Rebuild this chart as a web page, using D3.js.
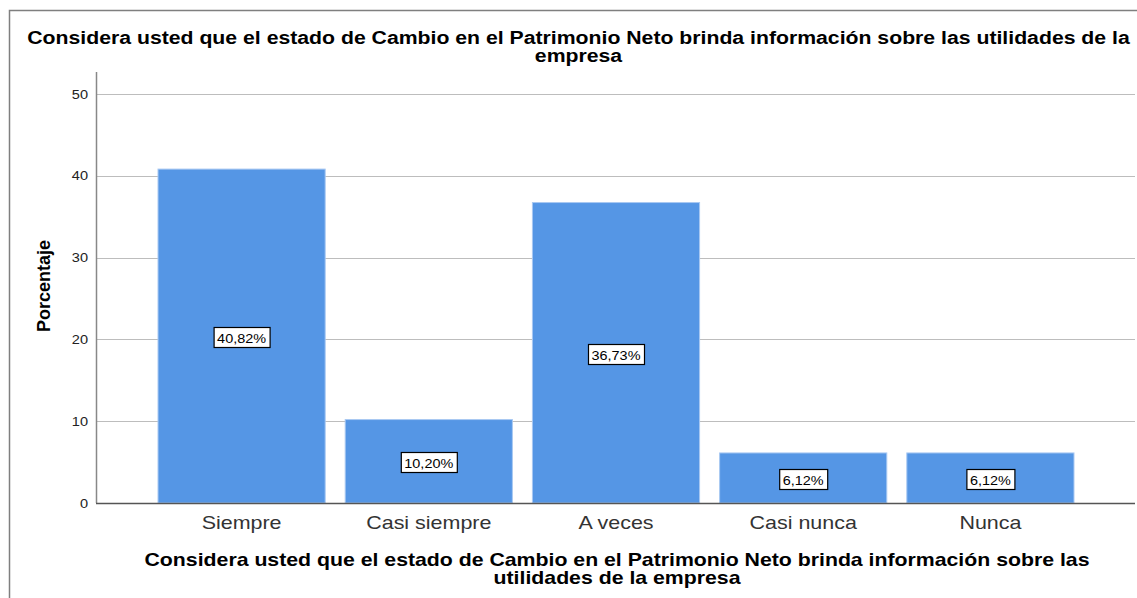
<!DOCTYPE html>
<html>
<head>
<meta charset="utf-8">
<script src="https://cdn.jsdelivr.net/npm/d3@7"></script>
<style>
  body { margin: 0; background: #fff; }
  text { font-family: "Liberation Sans", Arial, sans-serif; }
</style>
</head>
<body>
<svg id="chart" width="1137" height="598"></svg>
<script>
const categories = ["Siempre", "Casi siempre", "A veces", "Casi nunca", "Nunca"];
const values = [40.82, 10.20, 36.73, 6.12, 6.12];
const yTicks = [0, 10, 20, 30, 40, 50];
const titleLines = ["Considera usted que el estado de Cambio en el Patrimonio Neto brinda información sobre las utilidades de la", "empresa"];
const xTitleLines = ["Considera usted que el estado de Cambio en el Patrimonio Neto brinda información sobre las", "utilidades de la empresa"];

const svg = d3.select("#chart");

// the original picture is stretched sideways, so text gets a horizontal scale
function stretchFor(str, size, weight, target) {
  const t = svg.append("text").attr("font-size", size).attr("font-weight", weight).text(str);
  const w = t.node().getComputedTextLength();
  t.remove();
  return target / w;
}

// outer frame (runs off the right/bottom edges)
svg.append("path")
  .attr("d", "M9.5,598 V10.5 H1137")
  .attr("fill", "none")
  .attr("stroke", "#7f7f7f")
  .attr("stroke-width", 1.5);

const plotLeft = 96, plotRight = 1135, plotTop = 72, plotBottom = 503;

const y = d3.scaleLinear().domain([0, 50]).range([plotBottom, 94]);
const x = d3.scaleBand()
  .domain(categories)
  .range([148, 1084])
  .paddingInner(0.107)
  .paddingOuter(0.0535);

// gridlines
svg.append("g")
  .selectAll("line")
  .data(yTicks.filter(d => d > 0))
  .enter()
  .append("line")
  .attr("x1", plotLeft)
  .attr("x2", plotRight)
  .attr("y1", d => Math.round(y(d)) + 0.5)
  .attr("y2", d => Math.round(y(d)) + 0.5)
  .attr("stroke", "#bdbdbd")
  .attr("stroke-width", 1);

// bars
svg.append("g")
  .selectAll("rect")
  .data(values)
  .enter()
  .append("rect")
  .attr("x", (d, i) => x(categories[i]))
  .attr("y", d => y(d))
  .attr("width", x.bandwidth())
  .attr("height", d => plotBottom - y(d))
  .attr("fill", "#5596e5")
  .attr("stroke", "#a8c8f2")
  .attr("stroke-width", 1);

// axes lines
svg.append("line")
  .attr("x1", plotLeft + 0.5).attr("x2", plotLeft + 0.5)
  .attr("y1", plotTop).attr("y2", plotBottom)
  .attr("stroke", "#888").attr("stroke-width", 1.5);
svg.append("line")
  .attr("x1", plotLeft).attr("x2", plotRight)
  .attr("y1", plotBottom + 0.5).attr("y2", plotBottom + 0.5)
  .attr("stroke", "#555").attr("stroke-width", 1.5);

// y tick labels
svg.append("g")
  .selectAll("text")
  .data(yTicks)
  .enter()
  .append("text")
  .attr("transform", d => `translate(88,${y(d)}) scale(1.12,1)`)
  .attr("dy", "0.35em")
  .attr("text-anchor", "end")
  .attr("font-size", 13)
  .attr("fill", "#222")
  .text(d => d);

// category labels
const catSx = stretchFor("Siempre", 18, "normal", 80);
svg.append("g")
  .selectAll("text")
  .data(categories)
  .enter()
  .append("text")
  .attr("transform", d => `translate(${x(d) + x.bandwidth() / 2},529) scale(${catSx},1)`)
  .attr("text-anchor", "middle")
  .attr("font-size", 18)
  .attr("fill", "#333")
  .text(d => d);

// value labels in boxes
const fmt = v => v.toFixed(2).replace(".", ",") + "%";
const valSx = stretchFor("40,82%", 13, "normal", 49);
const lab = svg.append("g")
  .selectAll("g")
  .data(values)
  .enter()
  .append("g")
  .attr("transform", (d, i) => `translate(${x(categories[i]) + x.bandwidth() / 2},${Math.round(y(d / 2)) + 2})`);
lab.each(function() {
  const g = d3.select(this);
  const t = g.append("text")
    .attr("transform", `scale(${valSx},1)`)
    .attr("text-anchor", "middle")
    .attr("dy", "0.35em")
    .attr("font-size", 13)
    .attr("fill", "#000")
    .text(fmt);
  const w = t.node().getComputedTextLength() * valSx;
  g.insert("rect", "text")
    .attr("x", Math.round(-w / 2) - 3.5)
    .attr("y", -10.5)
    .attr("width", Math.round(w) + 7)
    .attr("height", 20)
    .attr("fill", "#fff")
    .attr("stroke", "#000")
    .attr("stroke-width", 1.2);
});

// chart title
const titleSx = stretchFor(titleLines[0], 18, "bold", 1103);
svg.append("g")
  .selectAll("text")
  .data(titleLines)
  .enter()
  .append("text")
  .attr("transform", (d, i) => `translate(578.5,${44 + i * 18}) scale(${titleSx},1)`)
  .attr("text-anchor", "middle")
  .attr("font-size", 18)
  .attr("font-weight", "bold")
  .text(d => d);

// x axis title
const xtSx = stretchFor(xTitleLines[0], 18, "bold", 946);
svg.append("g")
  .selectAll("text")
  .data(xTitleLines)
  .enter()
  .append("text")
  .attr("transform", (d, i) => `translate(617,${566 + i * 18}) scale(${xtSx},1)`)
  .attr("text-anchor", "middle")
  .attr("font-size", 18)
  .attr("font-weight", "bold")
  .text(d => d);

// y axis title (rotated, so its length runs vertically and is not stretched)
svg.append("text")
  .attr("transform", "translate(50,286) rotate(-90)")
  .attr("text-anchor", "middle")
  .attr("font-size", 18)
  .attr("font-weight", "bold")
  .text("Porcentaje");
</script>
</body>
</html>
